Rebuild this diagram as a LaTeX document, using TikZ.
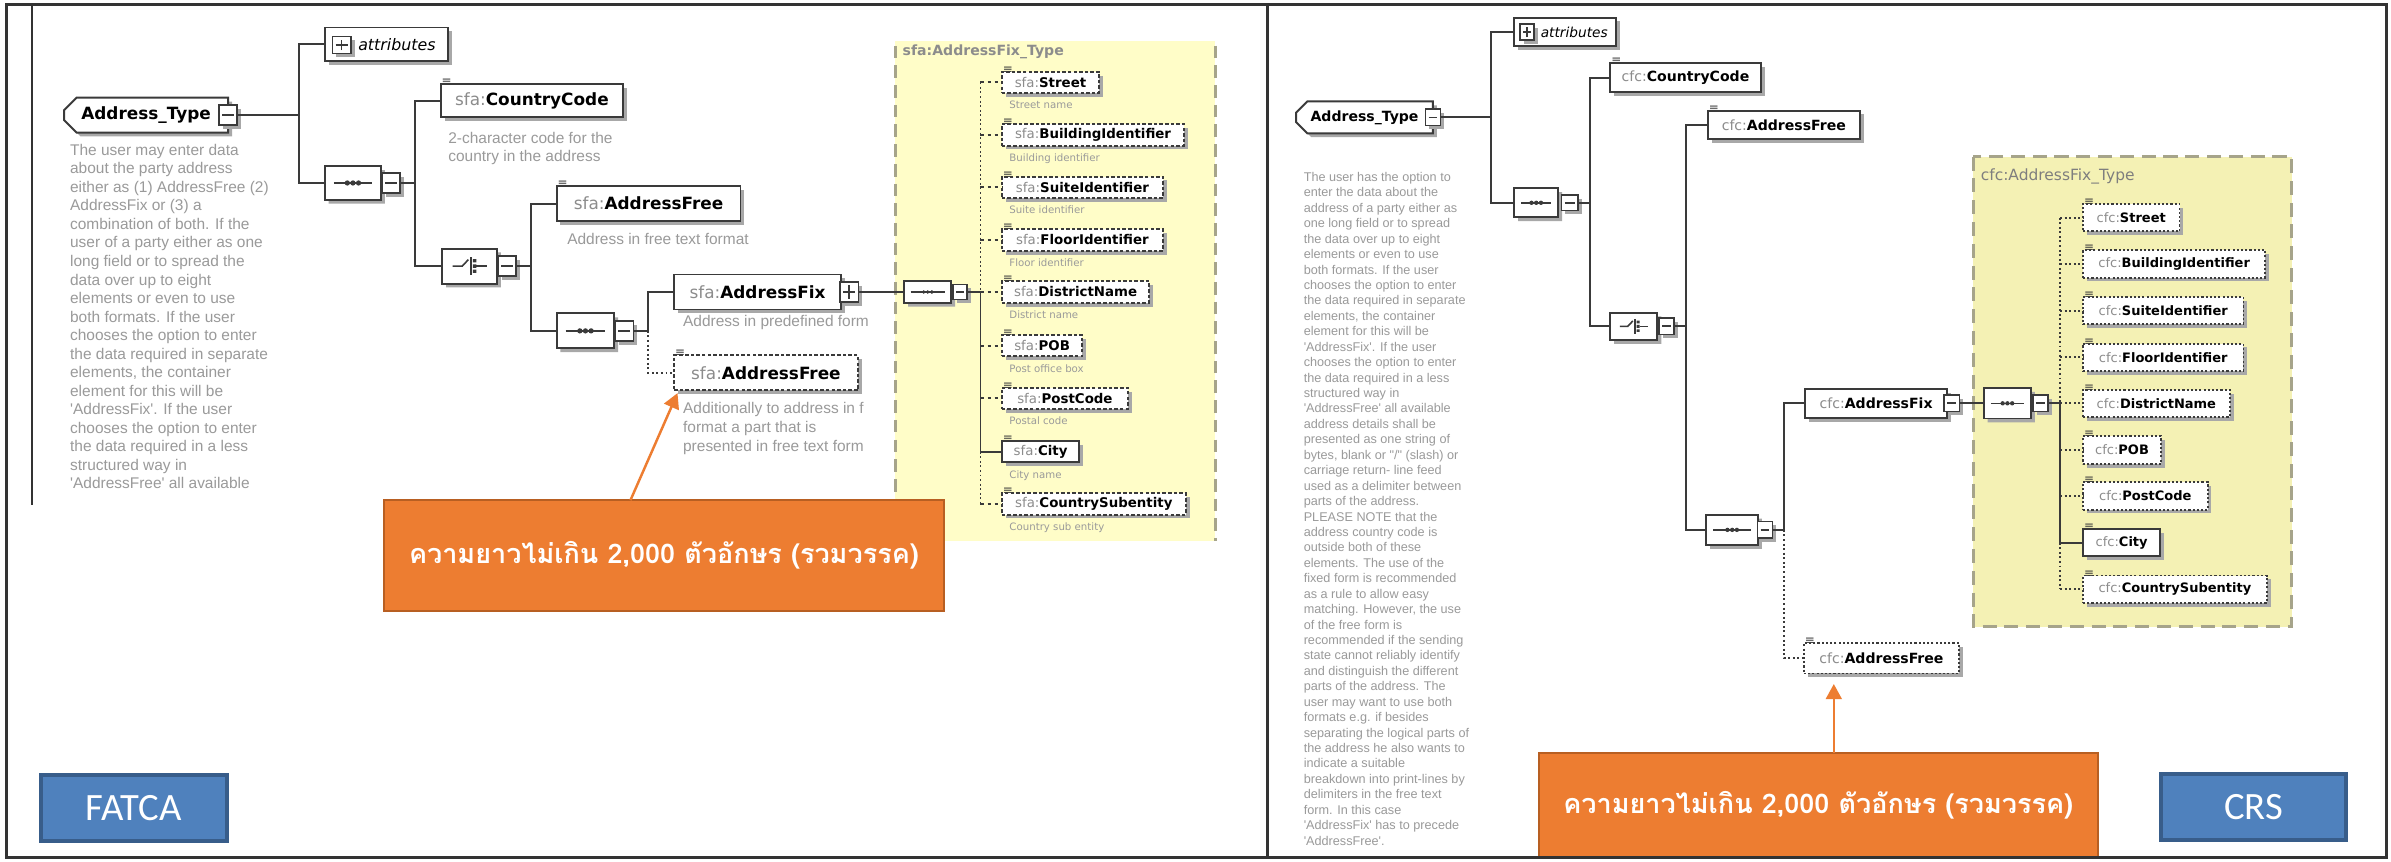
\documentclass[tikz,border=0pt]{standalone}
\usepackage{fontspec}
\usepackage{graphicx}
\setmainfont{DejaVu Sans}
\newfontfamily\libs{Liberation Sans}
\newfontfamily\thaif[Script=Thai]{Loma}
\newfontfamily\carl{Carlito}
\usetikzlibrary{shapes.misc,shadows,arrows.meta}
\definecolor{lc}{HTML}{3A3A3A}
\definecolor{pre}{HTML}{8C8C8C}
\definecolor{dsc}{HTML}{9A9A9A}
\definecolor{yelL}{HTML}{FFFDC8}
\definecolor{yelR}{HTML}{F4F1B4}
\definecolor{ybd}{HTML}{A6A48A}
\definecolor{org}{HTML}{ED7D31}
\definecolor{orgd}{HTML}{B85F22}
\definecolor{blu}{HTML}{4F81BD}
\definecolor{blud}{HTML}{385D8A}
\definecolor{frm}{HTML}{333333}
\definecolor{shc}{HTML}{A8A8A8}
\newcommand\elt[2]{\textcolor{pre}{#1:}\textbf{#2}}
\newcommand\EL[7]{\node[#1, minimum width={(#4-#3)*0.4323pt}, minimum height={#6*0.4323pt}] (#2) at (#3,#5) {#7};}
\newcommand\thaitext{ความยาวไม่เกิน 2,000 ตัวอักษร (รวมวรรค)}
\begin{document}
\begin{tikzpicture}[x=0.01525cm, y=-0.01525cm,
 every node/.style={inner sep=0pt, outer sep=0pt},
 ln/.style={draw=lc, line width=0.55pt},
 hd/.style={ln, dash pattern=on 1.1pt off 0.9pt},
 vd/.style={ln, dash pattern=on 0.55pt off 0.75pt},
 shd/.style={drop shadow={shadow xshift=1.1pt, shadow yshift=-1.1pt, fill=shc, opacity=1}},
 elbox/.style={rectangle, draw=lc, line width=0.55pt, fill=white, anchor=west, shd},
 obox/.style={elbox, dash pattern=on 1pt off 0.6pt},
 hexa/.style={chamfered rectangle, chamfered rectangle xsep=#1, chamfered rectangle ysep=#1, draw=lc, line width=0.55pt, fill=white, anchor=west, shd},
 seqsym/.style n args={3}{path picture={%
   \draw[line width=0.45pt, draw=lc] ([xshift=#1]path picture bounding box.west) -- ([xshift=-#1]path picture bounding box.east);
   \fill[lc] ([xshift=-#2]path picture bounding box.center) circle (#3) (path picture bounding box.center) circle (#3) ([xshift=#2]path picture bounding box.center) circle (#3);}},
 chsym/.style={path picture={%
   \begin{scope}[shift={(path picture bounding box.center)}, x=#1, y=#1]
   \draw[line width=0.45pt, draw=lc] (-4.2,0) -- (-1.8,0) -- (-0.3,1.6);
   \draw[line width=0.45pt, draw=lc] (0.3,2.2) -- (0.3,-2.2);
   \fill[lc] (0.8,1.7) rectangle (1.7,0.9) (0.8,0.45) rectangle (1.7,-0.45) (0.8,-0.9) rectangle (1.7,-1.7);
   \draw[line width=0.45pt, draw=lc] (1.7,0) -- (4.2,0);
   \end{scope}}},
 pmb/.style 2 args={rectangle, draw=lc, line width=0.5pt, fill=white, minimum width=#1, minimum height=#2, shd},
 mins/.style={path picture={\draw[line width=0.5pt, draw=lc] ([xshift=0.9pt]path picture bounding box.west) -- ([xshift=-0.9pt]path picture bounding box.east);}},
 plss/.style={path picture={\draw[line width=0.5pt, draw=lc] ([xshift=0.9pt]path picture bounding box.west) -- ([xshift=-0.9pt]path picture bounding box.east) ([yshift=0.9pt]path picture bounding box.south) -- ([yshift=-0.9pt]path picture bounding box.north);}},
 fL/.style={font=\fontsize{4.8}{5}\selectfont},
 fR/.style={font=\fontsize{4}{4.2}\selectfont},
 fK/.style={font=\fontsize{3.8}{4}\selectfont},
 fKR/.style={font=\fontsize{3.7}{4}\selectfont},
 kdesc/.style={anchor=north west, text=dsc, font=\fontsize{2.9}{3}\selectfont},
 ldesc/.style={anchor=north west, text=dsc, align=left, font=\libs\fontsize{4.4}{5.27}\selectfont},
 callout/.style={fill=org, draw=orgd, line width=0.6pt, anchor=north west, text=white, minimum width={368*0.4323pt}},
 tag/.style={fill=blu, draw=blud, line width=1.1pt, anchor=north west, text=white, font=\carl\fontsize{11}{11}\selectfont, minimum width={122*0.4323pt}, minimum height={43.5*0.4323pt}},
 arr/.style={draw=org, line width=0.7pt, -{Triangle[length=4.3pt,width=4.5pt]}}
]
\useasboundingbox (0,0) rectangle (1568,565);
\fill[white] (0,0) rectangle (1568,565);

% ================= LEFT (FATCA) =================
\fill[yelL] (587,27) rectangle (797,355);
\draw[ybd, line width=0.8pt, dash pattern=on 3.6pt off 2pt] (587,30) -- (587,355) (797,30) -- (797,355);
\node[anchor=west, text=pre, font=\fontsize{4}{4}\selectfont\bfseries] (tyL) at (592,34) {sfa:AddressFix\_Type};

\node[chamfered rectangle, chamfered rectangle corners={north west, south west}, chamfered rectangle xsep=1.8pt, chamfered rectangle ysep=1.8pt, draw=lc, line width=0.55pt, fill=white, shd, anchor=west, minimum width={108*0.4323pt}, minimum height={23*0.4323pt}, fL] (atL) at (42,75.5) {\textbf{Address\_Type}\hspace{4.8pt}};
\node[pmb={5.2pt}{5.6pt}, mins] (atLm) at (atL.east) {};
\node[ldesc] (atLd) at (46,94.5) {The user may enter data\\about the party address\\either as (1) AddressFree (2)\\AddressFix or (3) a\\combination of both. If the\\user of a party either as one\\long field or to spread the\\data over up to eight\\elements or even to use\\both formats. If the user\\chooses the option to enter\\the data required in separate\\elements, the container\\element for this will be\\'AddressFix'. If the user\\chooses the option to enter\\the data required in a less\\structured way in\\'AddressFree' all available};

\node[elbox, minimum width={81*0.4323pt}, minimum height={22*0.4323pt}, font=\fontsize{4.5}{4.7}\selectfont\itshape] (attrL) at (213,29) {\hspace{6pt}attributes};
\node[pmb={5.2pt}{4.8pt}, plss] (attrLp) at (224,29.5) {};

\node[hexa=3pt, minimum width={37*0.4323pt}, minimum height={22*0.4323pt}, seqsym={2.6pt}{1.6pt}{0.75pt}] (s1L) at (213,120) {};
\node[pmb={5.2pt}{5.6pt}, mins] (s1Lm) at (256.5,120) {};

\EL{elbox, fL}{ccL}{289}{409}{66}{22}{\elt{sfa}{CountryCode}}
\node[ldesc] (ccLd) at (294,86.5) {2-character code for the\\country in the address};

\node[hexa=3pt, minimum width={36*0.4323pt}, minimum height={23*0.4323pt}, chsym=1.15pt] (chL) at (290,174.5) {};
\node[pmb={5.2pt}{5.6pt}, mins] (chLm) at (332.5,174.5) {};

\EL{elbox, fL}{afL}{365}{486}{133.5}{23}{\elt{sfa}{AddressFree}}
\node[ldesc] (afLd) at (372,153) {Address in free text format};

\node[hexa=3pt, minimum width={38*0.4323pt}, minimum height={23*0.4323pt}, seqsym={2.6pt}{1.6pt}{0.75pt}] (s2L) at (365,217) {};
\node[pmb={5.2pt}{5.6pt}, mins] (s2Lm) at (409.5,217) {};

\EL{elbox, fL}{afxL}{442}{552}{191.5}{23}{\elt{sfa}{AddressFix}}
\node[pmb={5.2pt}{5.6pt}, plss] (afxLp) at (557,191.5) {};
\node[ldesc] (afxLd) at (448,207) {Address in predefined form};

\EL{obox, fL}{af2L}{442}{563}{244.5}{23}{\elt{sfa}{AddressFree}}
\node[ldesc, font=\libs\fontsize{4.4}{5.4}\selectfont] (af2Ld) at (448,264) {Additionally to address in f\\format a part that is\\presented in free text form};

\node[hexa=2pt, minimum width={31*0.4323pt}, minimum height={14*0.4323pt}, seqsym={1.8pt}{1.15pt}{0.55pt}] (s3L) at (593,191.5) {};
\node[pmb={3.9pt}{4.3pt}, mins] (s3Lm) at (629.5,191.5) {};

\EL{obox, fK}{stL}{657}{721}{54}{14}{\elt{sfa}{Street}}
\EL{obox, fK}{buL}{657}{777}{88.5}{14}{\elt{sfa}{BuildingIdentifier}}
\EL{obox, fK}{suL}{657}{763}{122.8}{14}{\elt{sfa}{SuiteIdentifier}}
\EL{obox, fK}{flL}{657}{763}{157.4}{14}{\elt{sfa}{FloorIdentifier}}
\EL{obox, fK}{diL}{657}{754}{191.5}{14}{\elt{sfa}{DistrictName}}
\EL{obox, fK}{poL}{657}{710}{226.7}{14}{\elt{sfa}{POB}}
\EL{obox, fK}{pcL}{657}{740}{261.2}{14}{\elt{sfa}{PostCode}}
\EL{elbox, fK}{ciL}{657}{708}{296.2}{14}{\elt{sfa}{City}}
\EL{obox, fK}{csL}{657}{778}{330.5}{14}{\elt{sfa}{CountrySubentity}}
\node[kdesc] (stLd) at (662,66.3) {Street name};
\node[kdesc] (buLd) at (662,100.8) {Building identifier};
\node[kdesc] (suLd) at (662,135.1) {Suite identifier};
\node[kdesc] (flLd) at (662,169.7) {Floor identifier};
\node[kdesc] (diLd) at (662,203.8) {District name};
\node[kdesc] (poLd) at (662,239) {Post office box};
\node[kdesc] (pcLd) at (662,273.5) {Postal code};
\node[kdesc] (ciLd) at (662,308.5) {City name};
\node[kdesc] (csLd) at (662,342.8) {Country sub entity};

% connectors left
\coordinate (jA) at (196,75.5);
\coordinate (jB) at (272,120);
\coordinate (jC) at (348,174.5);
\coordinate (jD) at (425,217);
\coordinate (jE) at (643,191.5);
\draw[ln] (atLm.east) -- (jA);
\draw[ln] (attrL.west) -| (jA);
\draw[ln] (s1L.west) -| (jA);
\draw[ln] (s1Lm.east) -- (jB);
\draw[ln] (ccL.west) -| (jB);
\draw[ln] (chL.west) -| (jB);
\draw[ln] (chLm.east) -- (jC);
\draw[ln] (afL.west) -| (jC);
\draw[ln] (s2L.west) -| (jC);
\draw[ln] (s2Lm.east) -- (jD);
\draw[ln] (afxL.west) -| (jD);
\draw[vd] (jD) |- (af2L.west);
\draw[ln] (afxLp.east) -- (s3L.west);
\draw[ln] (s3Lm.east) -- (jE);
\draw[vd] (stL.west -| jE) -- (jE);
\draw[ln] (jE) -- (ciL.west -| jE);
\draw[vd] (ciL.west -| jE) -- (csL.west -| jE);
\foreach \n in {stL,buL,suL,flL,diL,poL,pcL,csL} {\draw[hd] (\n.west -| jE) -- (\n.west);}
\draw[ln] (ciL.west -| jE) -- (ciL.west);

\node[callout, minimum height={73*0.4323pt}] (callL) at (252,328) {\resizebox{145pt}{!}{\thaif\bfseries\thaitext}};
\coordinate (tipL) at ([shift={(1pt,-0.8pt)}]af2L.south west);
\draw[arr] ([xshift={162*0.4323pt}]callL.north west) -- (tipL);

\node[tag] (fatca) at (27,508) {FATCA};

% ================= RIGHT (CRS) =================
\draw[ybd, fill=yelR, line width=0.9pt, dash pattern=on 4pt off 2.2pt] (1294,102.7) rectangle (1503,411);
\node[anchor=west, text=pre!90!black, font=\fontsize{4.4}{4.4}\selectfont] (tyR) at (1299,116) {cfc:AddressFix\_Type};

\node[chamfered rectangle, chamfered rectangle corners={north west, south west}, chamfered rectangle xsep=1.6pt, chamfered rectangle ysep=1.6pt, draw=lc, line width=0.55pt, fill=white, shd, anchor=west, minimum width={90*0.4323pt}, minimum height={21*0.4323pt}, fR] (atR) at (850,77) {\textbf{Address\_Type}\hspace{2.6pt}};
\node[pmb={4.3pt}{4.6pt}, mins] (atRm) at (atR.east) {};
\node[ldesc, font=\libs\fontsize{3.6}{4.39}\selectfont] (atRd) at (855,113) {The user has the option to\\enter the data about the\\address of a party either as\\one long field or to spread\\the data over up to eight\\elements or even to use\\both formats. If the user\\chooses the option to enter\\the data required in separate\\elements, the container\\element for this will be\\'AddressFix'. If the user\\chooses the option to enter\\the data required in a less\\structured way in\\'AddressFree' all available\\address details shall be\\presented as one string of\\bytes, blank or "/" (slash) or\\carriage return- line feed\\used as a delimiter between\\parts of the address.\\PLEASE NOTE that the\\address country code is\\outside both of these\\elements. The use of the\\fixed form is recommended\\as a rule to allow easy\\matching. However, the use\\of the free form is\\recommended if the sending\\state cannot reliably identify\\and distinguish the different\\parts of the address. The\\user may want to use both\\formats e.g. if besides\\separating the logical parts of\\the address he also wants to\\indicate a suitable\\breakdown into print-lines by\\delimiters in the free text\\form. In this case\\'AddressFix' has to precede\\'AddressFree'.};

\node[elbox, minimum width={67*0.4323pt}, minimum height={19*0.4323pt}, font=\fontsize{3.9}{4.1}\selectfont\itshape] (attrR) at (993,21) {\hspace{5.2pt}attributes};
\node[pmb={4.1pt}{4.75pt}, plss] (attrRp) at (1001.5,21) {};

\node[hexa=2.6pt, minimum width={29*0.4323pt}, minimum height={19*0.4323pt}, seqsym={2pt}{1.35pt}{0.62pt}] (s1R) at (993,133) {};
\node[pmb={4.7pt}{4.4pt}, mins] (s1Rm) at (1029.5,133) {};

\EL{elbox, fR}{ccR}{1056}{1155}{51}{19}{\elt{cfc}{CountryCode}}

\node[hexa=2.6pt, minimum width={31*0.4323pt}, minimum height={18*0.4323pt}, chsym=0.95pt] (chR) at (1056,214) {};
\node[pmb={4.3pt}{4.7pt}, mins] (chRm) at (1093,214) {};

\EL{elbox, fR}{afR}{1120}{1220}{82}{19}{\elt{cfc}{AddressFree}}

\node[hexa=2.6pt, minimum width={34*0.4323pt}, minimum height={20*0.4323pt}, seqsym={2pt}{1.35pt}{0.62pt}] (s2R) at (1119,347.5) {};
\node[pmb={4.3pt}{4.7pt}, mins] (s2Rm) at (1157.5,347.5) {};

\EL{elbox, fR}{afxR}{1184}{1277}{264.5}{19}{\elt{cfc}{AddressFix}\hspace{3pt}}
\node[pmb={4.3pt}{4.7pt}, mins] (afxRm) at (1280,264.5) {};

\EL{obox, fR, dash pattern=on 0.6pt off 0.6pt}{af2R}{1183}{1285}{431.7}{20}{\elt{cfc}{AddressFree}}

\node[hexa=2.6pt, minimum width={31*0.4323pt}, minimum height={20*0.4323pt}, seqsym={2pt}{1.35pt}{0.62pt}] (s3R) at (1301,264.5) {};
\node[pmb={4.3pt}{4.7pt}, mins] (s3Rm) at (1338,264.5) {};

\EL{obox, fKR, dash pattern=on 0.6pt off 0.6pt}{stR}{1366}{1429.5}{142.7}{18}{\elt{cfc}{Street}}
\EL{obox, fKR, dash pattern=on 0.6pt off 0.6pt}{buR}{1366}{1486}{173.1}{18}{\elt{cfc}{BuildingIdentifier}}
\EL{obox, fKR, dash pattern=on 0.6pt off 0.6pt}{suR}{1366}{1471.6}{203.7}{18}{\elt{cfc}{SuiteIdentifier}}
\EL{obox, fKR, dash pattern=on 0.6pt off 0.6pt}{flR}{1366}{1471.6}{234.3}{18}{\elt{cfc}{FloorIdentifier}}
\EL{obox, fKR, dash pattern=on 0.6pt off 0.6pt}{diR}{1366}{1462.6}{264.5}{18}{\elt{cfc}{DistrictName}}
\EL{obox, fKR, dash pattern=on 0.6pt off 0.6pt}{poR}{1366}{1417.4}{295.1}{18}{\elt{cfc}{POB}}
\EL{obox, fKR, dash pattern=on 0.6pt off 0.6pt}{pcR}{1366}{1448}{325.2}{18}{\elt{cfc}{PostCode}}
\EL{elbox, fKR}{ciR}{1366}{1416.9}{355.9}{18}{\elt{cfc}{City}}
\EL{obox, fKR, dash pattern=on 0.6pt off 0.6pt}{csR}{1366}{1487}{386.4}{18}{\elt{cfc}{CountrySubentity}}

% connectors right
\coordinate (jRA) at (978,77);
\coordinate (jRB) at (1043,133);
\coordinate (jRC) at (1105.6,214);
\coordinate (jRD) at (1170,347.5);
\coordinate (jRE) at (1351,264.5);
\draw[ln] (atRm.east) -- (jRA);
\draw[ln] (attrR.west) -| (jRA);
\draw[ln] (s1R.west) -| (jRA);
\draw[ln] (s1Rm.east) -- (jRB);
\draw[ln] (ccR.west) -| (jRB);
\draw[ln] (chR.west) -| (jRB);
\draw[ln] (chRm.east) -- (jRC);
\draw[ln] (afR.west) -| (jRC);
\draw[ln] (s2R.west) -| (jRC);
\draw[ln] (s2Rm.east) -- (jRD);
\draw[ln] (afxR.west) -| (jRD);
\draw[vd] (jRD) |- (af2R.west);
\draw[ln] (afxRm.east) -- (s3R.west);
\draw[ln] (s3Rm.east) -- (jRE);
\draw[vd] (stR.west -| jRE) -- (jRE);
\draw[ln] (jRE) -- (ciR.west -| jRE);
\draw[vd] (ciR.west -| jRE) -- (csR.west -| jRE);
\foreach \n in {stR,buR,suR,flR,diR,poR,pcR,csR} {\draw[vd] (\n.west -| jRE) -- (\n.west);}
\draw[ln] (ciR.west -| jRE) -- (ciR.west);

% element icons
\foreach \n in {ccL,afL,af2L,stL,buL,suL,flL,diL,poL,pcL,ciL,csL,ccR,afR,af2R,stR,buR,suR,flR,diR,poR,pcR,ciR,csR}
  {\node[anchor=north west, text=lc, font=\fontsize{3.4}{3.4}\selectfont] (ic-\n) at ([shift={(0.3pt,1.4pt)}]\n.north west) {≡};}

\node[callout, minimum height={69*0.4323pt}] (callR) at (1009,494) {\resizebox{145pt}{!}{\thaif\bfseries\thaitext}};
\coordinate (tipR) at ([shift={(8.5pt,-3pt)}]af2R.south west);
\draw[arr] (callR.north -| tipR) -- (tipR);

\node[tag] (crs) at (1417,507.6) {CRS};

% frame
\draw[frm, line width=0.6pt] (20.8,3) -- (20.8,331);
\draw[frm, line width=0.9pt] (4,3) rectangle (1565,562.5);
\draw[frm, line width=0.9pt] (831,3) -- (831,562.5);
\end{tikzpicture}
\end{document}
